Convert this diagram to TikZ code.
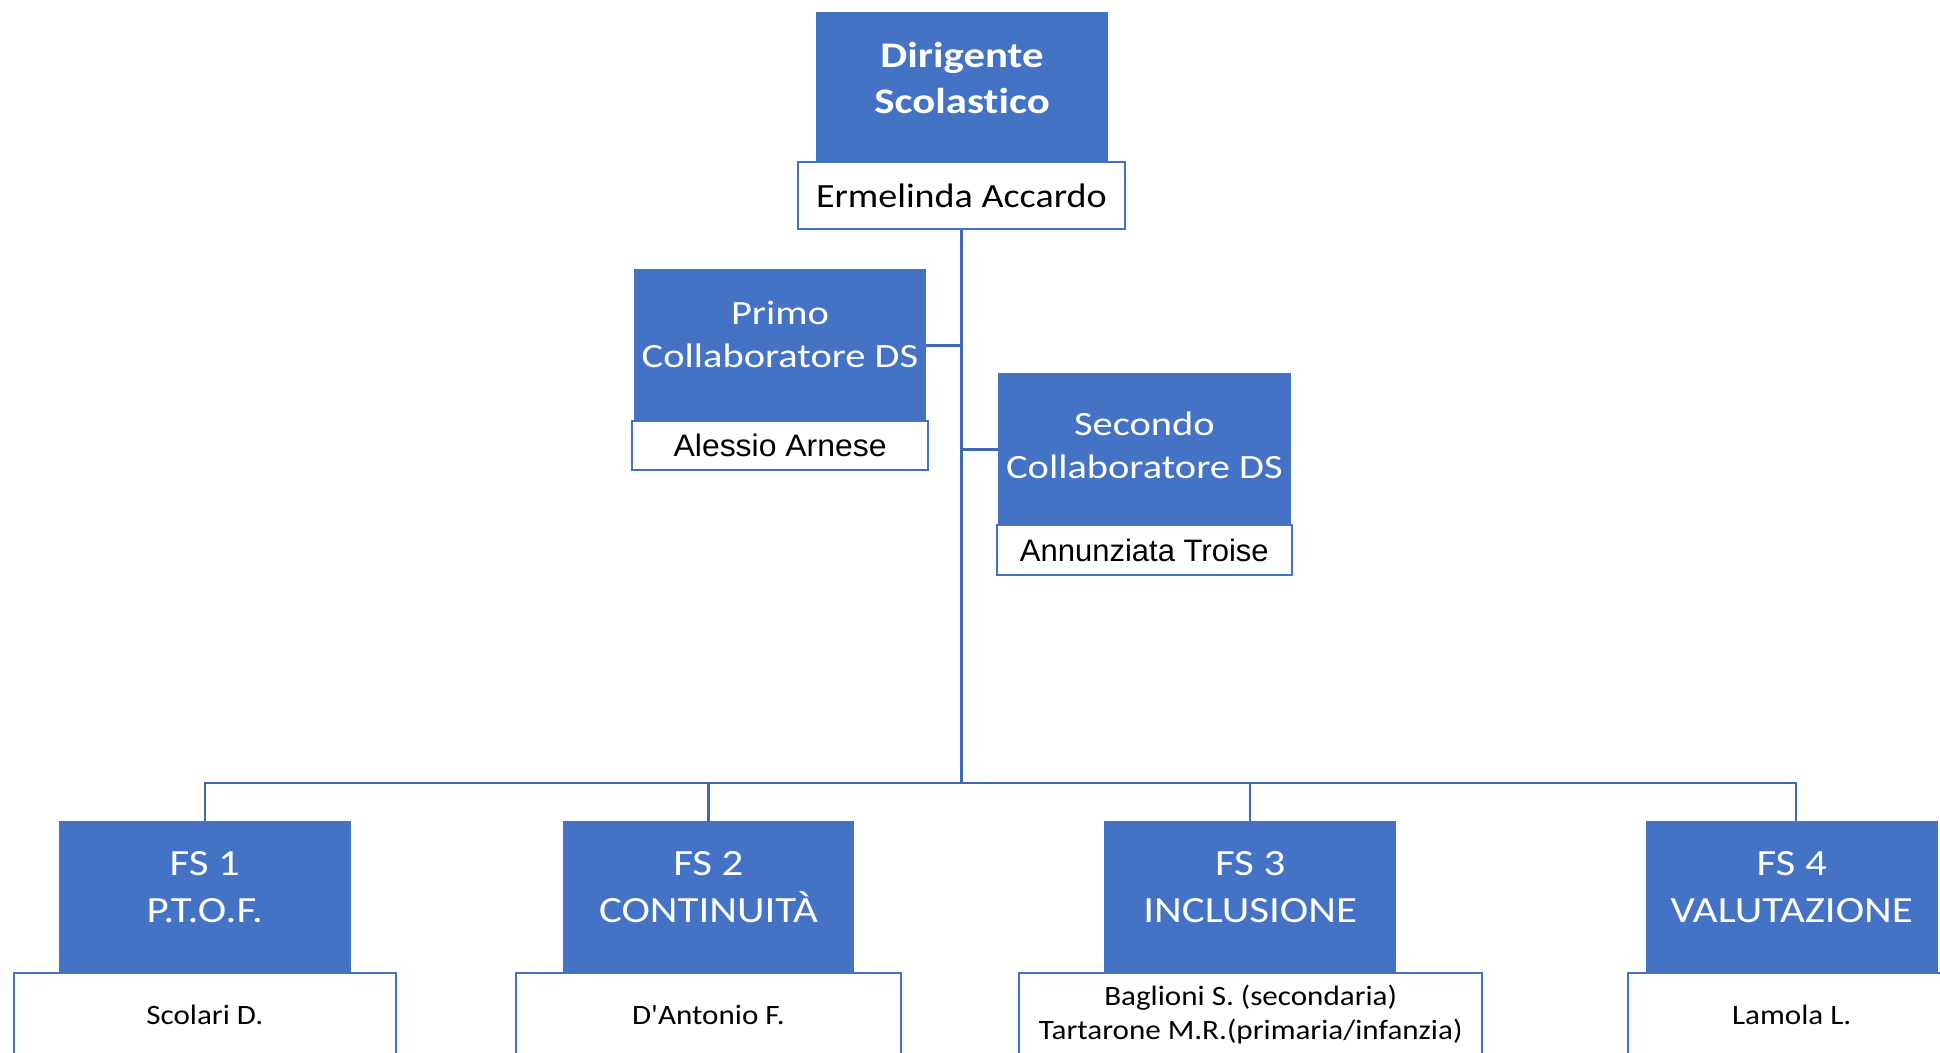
\documentclass[tikz,border=0pt]{standalone}
\usepackage{fontspec}
\setmainfont[Ligatures=NoCommon]{Carlito}
\newfontfamily\arialf{Liberation Sans}
\newfontfamily\stretchDS[FakeStretch=1.19,Ligatures=NoCommon]{Carlito}
\newfontfamily\stretchEA[FakeStretch=1.12,Ligatures=NoCommon]{Carlito}
\newfontfamily\stretchCol[FakeStretch=1.19,Ligatures=NoCommon]{Carlito}
\newfontfamily\stretchFS[FakeStretch=1.16,Ligatures=NoCommon]{Carlito}
\newfontfamily\stretchNm[FakeStretch=1.11,Ligatures=NoCommon]{Carlito}
\newfontfamily\stretchAr[FakeStretch=1.03]{Liberation Sans}
\definecolor{offblue}{HTML}{4472C4}
\definecolor{linkblue}{HTML}{3F68B5}
\begin{document}
\begin{tikzpicture}[x=1pt,y=-1pt,
  bluebox/.style={draw=offblue, line width=1pt, fill=offblue, inner sep=0pt, anchor=center},
  namebox/.style={draw=offblue, line width=2pt, fill=white, inner sep=0pt, anchor=center, text=black, align=center},
  btext/.style={text=white, align=center, inner sep=0pt},
  conn/.style={draw=linkblue, line width=2.5pt}]
\useasboundingbox (0,0) rectangle (1940,1052);
\clip (0,0) rectangle (1940,1052);

% Dirigente
\node[bluebox, minimum width=290.7pt, minimum height=150.6pt,
  label={[btext, yshift=10pt, font=\stretchDS\fontsize{36}{46}\selectfont\bfseries]center:Dirigente\\Scolastico}]
  (ds) at (962,87.7) {};
\node[namebox, minimum width=326.6pt, minimum height=67pt, font=\stretchEA\fontsize{34}{40}\selectfont]
  (dsname) at (961.3,195.5) {Ermelinda Accardo};

% Primo collaboratore
\node[bluebox, minimum width=290.7pt, minimum height=151pt,
  label={[btext, yshift=10.5pt, font=\stretchCol\fontsize{34}{43}\selectfont]center:Primo\\Collaboratore DS}]
  (primo) at (780,345.4) {};
\node[namebox, minimum width=295.8pt, minimum height=49.4pt, font=\stretchAr\fontsize{31}{36}\selectfont]
  (primoname) at (780.1,445.3) {Alessio Arnese};

% Secondo collaboratore
\node[bluebox, minimum width=292pt, minimum height=151.4pt,
  label={[btext, yshift=4pt, font=\stretchCol\fontsize{34}{43}\selectfont]center:Secondo\\Collaboratore DS}]
  (secondo) at (1144.4,449.3) {};
\node[namebox, minimum width=294.6pt, minimum height=50.7pt, font=\arialf\fontsize{31}{36}\selectfont]
  (secondoname) at (1144.3,550) {Annunziata Troise};

% Funzioni strumentali
\tikzset{fsbox/.style={bluebox, minimum width=290.7pt, minimum height=151.5pt},
  fslab/.style={btext, yshift=10.5pt, font=\stretchFS\fontsize{37}{47}\selectfont},
  fsname/.style={namebox, minimum height=84.5pt, font=\stretchNm\fontsize{28}{33.6}\selectfont}}
\node[fsbox, label={[fslab]center:FS 1\\P.T.O.F.}] (fs1) at (204.8,897.3) {};
\node[fsbox, label={[fslab]center:FS 2\\CONTINUITÀ}] (fs2) at (708.4,897.3) {};
\node[fsbox, label={[fslab]center:FS 3\\INCLUSIONE}] (fs3) at (1250.2,897.3) {};
\node[fsbox, minimum width=291pt, label={[fslab]center:FS 4\\VALUTAZIONE}] (fs4) at (1791.7,897.3) {};

\node[fsname, minimum width=382.4pt] (fs1name) at (204.8,1014.8) {Scolari D.};
\node[fsname, minimum width=384.7pt] (fs2name) at (708.4,1014.8) {D\char"27 Antonio F.};
\node[fsname, minimum width=462.5pt] (fs3name) at (1250.7,1014.8) {Baglioni S. (secondaria)\\Tartarone M.R.(primaria/infanzia)};
\node[fsname, minimum width=327.4pt] (fs4name) at (1791.7,1014.8) {Lamola L.};

% connectors
\coordinate (bus) at (961.3,783);
\draw[conn] (dsname.south) -- (bus);
\draw[conn] (primo.east) -- (primo.east -| bus);
\draw[conn] (secondo.west) -- (secondo.west -| bus);
\draw[conn] (fs1.north) -- (fs1.north |- bus) -- ([xshift=4.5pt]fs4.north |- bus) -- ([xshift=4.5pt]fs4.north);
\draw[conn] (fs2.north) -- (fs2.north |- bus);
\draw[conn] (fs3.north) -- (fs3.north |- bus);
\end{tikzpicture}
\end{document}
